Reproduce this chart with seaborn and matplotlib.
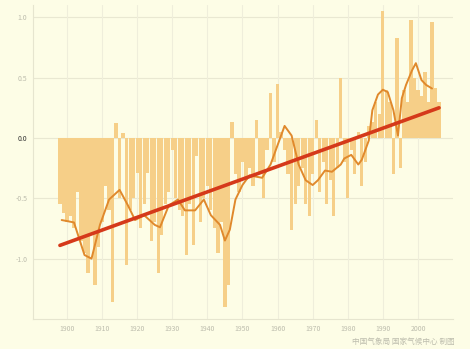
import matplotlib
matplotlib.use("Agg")
import matplotlib.pyplot as plt
import seaborn as sns
import numpy as np
import pandas as pd

# Annual temperature anomalies (°C)
years = list(range(1898, 2007))
anomaly = [
    -0.55, -0.62, -0.70, -0.65, -0.75, -0.45, -0.85, -0.95, -1.12, -0.80,  # 1898-1907
    -1.22, -0.90, -0.70, -0.40, -0.60, -1.36, 0.12, -0.50, 0.04, -1.05,    # 1908-1917
    -0.60, -0.50, -0.29, -0.75, -0.55, -0.29, -0.85, -0.70, -1.12, -0.80,  # 1918-1927
    -0.55, -0.45, -0.10, -0.50, -0.60, -0.65, -0.97, -0.55, -0.89, -0.15,  # 1928-1937
    -0.70, -0.50, -0.40, -0.60, -0.75, -0.95, -0.70, -1.40, -1.22, 0.13,   # 1938-1947
    -0.30, -0.45, -0.20, -0.35, -0.25, -0.40, 0.15, -0.30, -0.50, -0.10,   # 1948-1957
    0.37, -0.20, 0.45, 0.05, -0.10, -0.30, -0.76, -0.55, -0.40, -0.25,     # 1958-1967
    -0.55, -0.65, -0.30, 0.15, -0.45, -0.20, -0.55, -0.35, -0.65, -0.25,   # 1968-1977
    0.50, -0.20, -0.50, -0.10, -0.30, 0.05, -0.40, -0.20, 0.10, 0.13,      # 1978-1987
    0.30, 0.20, 1.05, 0.40, 0.30, -0.30, 0.83, -0.25, 0.40, 0.30,          # 1988-1997
    0.98, 0.50, 0.40, 0.35, 0.55, 0.30, 0.96, 0.41, 0.30,                  # 1998-2006
]

# Smoothed curve, read at irregular years
smooth_years = [1898.5, 1902, 1905, 1907, 1909.4, 1912, 1915, 1917.4, 1919.4, 1922,
                1925, 1926.5, 1929, 1931.6, 1933.6, 1936.5, 1939, 1941, 1943.6, 1945,
                1946.4, 1948, 1950, 1952, 1955.6, 1958, 1960, 1962, 1964, 1966,
                1968, 1970, 1971.5, 1973.5, 1975.5, 1978, 1979, 1981, 1983, 1984,
                1986, 1987, 1988.6, 1990, 1991.4, 1993, 1994.3, 1995.4, 1996.6, 1998.3,
                1999.4, 2001, 2002.3, 2004]
smooth_vals = [-0.68, -0.70, -0.97, -1.00, -0.72, -0.51, -0.43, -0.56, -0.68, -0.64,
               -0.72, -0.74, -0.56, -0.51, -0.60, -0.60, -0.51, -0.64, -0.72, -0.85,
               -0.76, -0.51, -0.39, -0.31, -0.33, -0.22, -0.06, 0.10, 0.02, -0.22,
               -0.35, -0.39, -0.35, -0.27, -0.28, -0.22, -0.17, -0.14, -0.22, -0.18,
               -0.02, 0.23, 0.36, 0.40, 0.38, 0.23, 0.02, 0.33, 0.44, 0.56,
               0.62, 0.48, 0.44, 0.41]

# Linear trend end points
trend_years = [1898, 2006]
trend_vals = [-0.89, 0.25]

x_ticks = list(range(1900, 2001, 10))
y_ticks = [1.0, 0.5, 0.0, -0.5, -1.0]
y_labels = ["1.0", "0.5", "0.0", "-0.5", "-1.0"]
source_text = "中国气象局 国家气候中心 制图"

sns.set_theme(style="white")
plt.rcParams["font.family"] = ["Noto Sans CJK SC", "DejaVu Sans"]

bg = "#fdfde6"
fig = plt.figure(figsize=(4.7, 3.49), dpi=100, facecolor=bg)
ax = fig.add_axes([0.070, 0.086, 0.894, 0.899], facecolor=bg)

df = pd.DataFrame({"year": years, "anomaly": anomaly})
ax.bar(df["year"], df["anomaly"], width=0.92, color="#f6cf88", edgecolor="none", zorder=2)

sm = pd.DataFrame({"year": smooth_years, "value": smooth_vals})
sns.lineplot(data=sm, x="year", y="value", ax=ax, color="#e0892c", linewidth=1.4,
             sort=False, zorder=3)
tr = pd.DataFrame({"year": trend_years, "value": trend_vals})
sns.lineplot(data=tr, x="year", y="value", ax=ax, color="#d5391a", linewidth=2.6,
             sort=False, zorder=4)

ax.set_xlim(1890.3, 2010.0)
ax.set_ylim(-1.5, 1.1)
ax.set_xticks(x_ticks)
ax.set_xticklabels([str(t) for t in x_ticks])
ax.set_yticks(y_ticks)
ax.set_yticklabels(y_labels)
ax.set_xlabel("")
ax.set_ylabel("")

for yt in y_ticks:
    ax.axhline(yt, color="#e9e8d2", linewidth=0.8, zorder=1)
for xt in x_ticks:
    ax.axvline(xt, color="#efeedb", linewidth=0.8, zorder=1)

for side in ["top", "right"]:
    ax.spines[side].set_visible(False)
for side in ["left", "bottom"]:
    ax.spines[side].set_color("#e6e5cf")
    ax.spines[side].set_linewidth(0.8)

ax.tick_params(axis="both", length=0, labelsize=5, labelcolor="#bdbdad", pad=4)
for lbl in ax.get_yticklabels():
    if lbl.get_text() == "0.0":
        lbl.set_color("#333333")

fig.text(0.968, 0.008, source_text, ha="right", va="bottom", fontsize=5.5, color="#bdbdad")

fig.savefig("out.png", dpi=100, facecolor=bg)
